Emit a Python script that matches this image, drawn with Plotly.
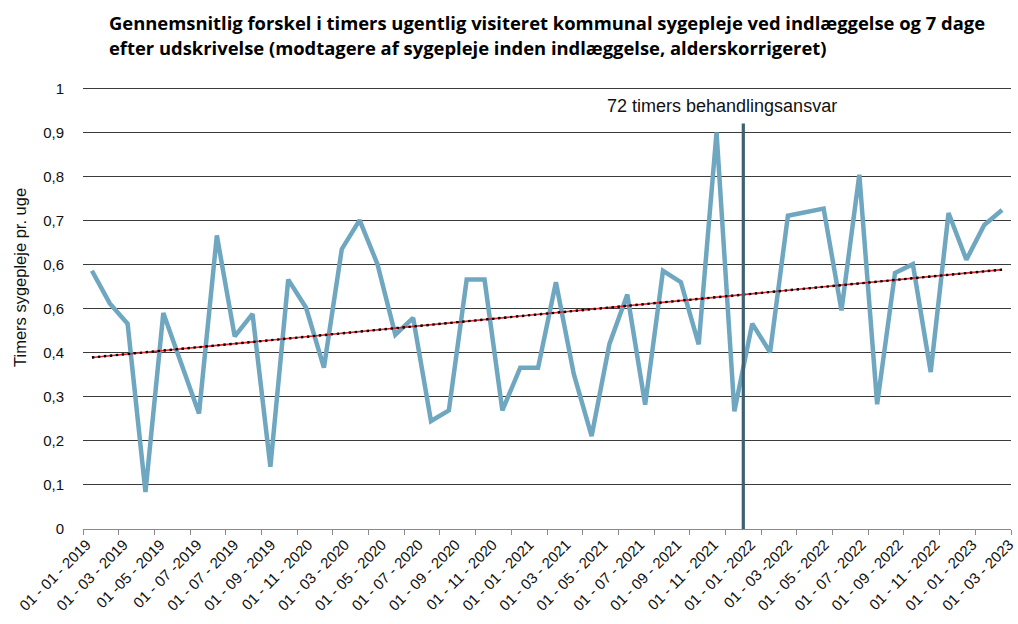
import numpy as np
import plotly.graph_objects as go

# ---------------- data ----------------
values = [0.586, 0.512, 0.466, 0.084, 0.490, 0.379, 0.262, 0.666, 0.437, 0.488,
          0.141, 0.566, 0.502, 0.366, 0.635, 0.701, 0.601, 0.441, 0.479, 0.245,
          0.269, 0.566, 0.566, 0.269, 0.366, 0.366, 0.560, 0.352, 0.211, 0.420,
          0.532, 0.282, 0.586, 0.560, 0.419, 0.900, 0.267, 0.466, 0.401, 0.711,
          0.718, 0.727, 0.496, 0.804, 0.283, 0.581, 0.601, 0.356, 0.717, 0.611,
          0.690, 0.724]

x_labels = ["01 - 01 - 2019", "01 - 03 - 2019", "01 -05 - 2019", "01 - 07 -2019",
            "01 - 07 - 2019", "01 - 09 - 2019", "01 - 11 - 2020", "01 - 03 - 2020",
            "01 - 05 - 2020", "01 - 07 - 2020", "01 - 09 - 2020", "01 - 11 - 2020",
            "01 - 01 - 2021", "01 - 03 - 2021", "01 - 05 - 2021", "01 - 07 - 2021",
            "01 - 09 - 2021", "01 - 11 - 2021", "01 - 01 - 2022", "01 - 03 -2022",
            "01 - 05 - 2022", "01 - 07 - 2022", "01 - 09 - 2022", "01 - 11 - 2022",
            "01 - 01 - 2023", "01 - 03 - 2023"]

y_tickvals = [0, 0.1, 0.2, 0.3, 0.4, 0.5, 0.6, 0.7, 0.8, 0.9, 1.0]
y_ticktext = ["0", "0,1", "0,2", "0,3", "0,4", "0,6", "0,6", "0,7", "0,8", "0,9", "1"]

title_line1 = "Gennemsnitlig forskel i timers ugentlig visiteret kommunal sygepleje ved indlæggelse og 7 dage"
title_line2 = "efter udskrivelse (modtagere af sygepleje inden indlæggelse, alderskorrigeret)"
y_title = "Timers sygepleje pr. uge"
event_text = "72 timers behandlingsansvar"
event_index = 36.5      # between 01-2022 and 02-2022
event_top = 0.92

# ---------------- layout constants ----------------
W, H = 1018, 624
ML, MR, MT, MB = 83, 7, 87, 95
LINE_COLOR = "#6fa7c1"
EVENT_COLOR = "#3d6170"
GRID_COLOR = "#3a3a3a"
LBL0, LBL_STEP = -0.3, 2.068

n = len(values)
xs = np.arange(n)
slope, intercept = np.polyfit(xs, np.array(values), 1)
trend = slope * xs + intercept

fig = go.Figure()
fig.add_trace(go.Scatter(x=xs, y=values, mode="lines",
                         line=dict(color=LINE_COLOR, width=4.5),
                         showlegend=False, hoverinfo="skip"))
fig.add_trace(go.Scatter(x=xs, y=trend, mode="lines",
                         line=dict(color="#e8202a", width=1.6),
                         showlegend=False, hoverinfo="skip"))
fig.add_trace(go.Scatter(x=xs, y=trend, mode="lines",
                         line=dict(color="#000000", width=2.4, dash="2.4px,3.6px"),
                         showlegend=False, hoverinfo="skip"))

fig.add_shape(type="line", xref="x", yref="y", x0=event_index, x1=event_index,
              y0=0, y1=event_top, line=dict(color=EVENT_COLOR, width=3.2), layer="above")

fig.add_annotation(text=event_text, xref="x", yref="y", x=35.28, y=0.96,
                   showarrow=False, font=dict(family="Liberation Sans", size=18, color="#111"),
                   xanchor="center", yanchor="middle")

plot_w = W - ML - MR
plot_h = H - MT - MB
fig.add_annotation(text=title_line1, xref="paper", yref="paper",
                   x=(107 - ML) / plot_w, y=(H - MB - 22) / plot_h,
                   showarrow=False, xanchor="left", yanchor="middle",
                   font=dict(family="Open Sans", size=18.4, color="#000", weight="bold"))
fig.add_annotation(text=title_line2, xref="paper", yref="paper",
                   x=(107 - ML) / plot_w, y=(H - MB - 47) / plot_h,
                   showarrow=False, xanchor="left", yanchor="middle",
                   font=dict(family="Open Sans", size=18.4, color="#000", weight="bold"))
fig.add_annotation(text=y_title, xref="paper", yref="paper",
                   x=(20 - ML) / plot_w, y=(H - MB - 278) / plot_h,
                   showarrow=False, textangle=-90, xanchor="center", yanchor="middle",
                   font=dict(family="Liberation Sans", size=16.5, color="#111"))

label_pos = [LBL0 + LBL_STEP * i for i in range(len(x_labels))]
boundaries = [b - 0.5 for b in range(0, n + 1, 2)]

fig.update_layout(
    width=W, height=H, autosize=False,
    margin=dict(l=ML, r=MR, t=MT, b=MB, autoexpand=False),
    paper_bgcolor="white", plot_bgcolor="white",
    xaxis=dict(range=[-0.5, n - 0.5], showgrid=False, zeroline=False, automargin=False,
               showline=True, linecolor="#8a8a8a", linewidth=1,
               tickmode="array", tickvals=label_pos, ticktext=x_labels,
               ticks="", tickangle=-45,
               tickfont=dict(family="Liberation Sans", size=15, color="#111"),
               minor=dict(tickmode="array", tickvals=boundaries, ticks="outside",
                          ticklen=5, tickcolor="#8a8a8a", tickwidth=1, showgrid=False)),
    yaxis=dict(range=[0, 1.003], tickmode="array", tickvals=y_tickvals, ticktext=y_ticktext,
               showgrid=True, gridcolor=GRID_COLOR, gridwidth=1, zeroline=False, automargin=False,
               showline=False, ticks="", ticklabelstandoff=18,
               tickfont=dict(family="Liberation Sans", size=15, color="#111")),
)

fig.write_html("out.html", config={"displayModeBar": False},
               post_script=("document.body.style.margin='0px';"
                            "document.body.style.overflow='hidden';"
                            "document.documentElement.style.overflow='hidden';"))
